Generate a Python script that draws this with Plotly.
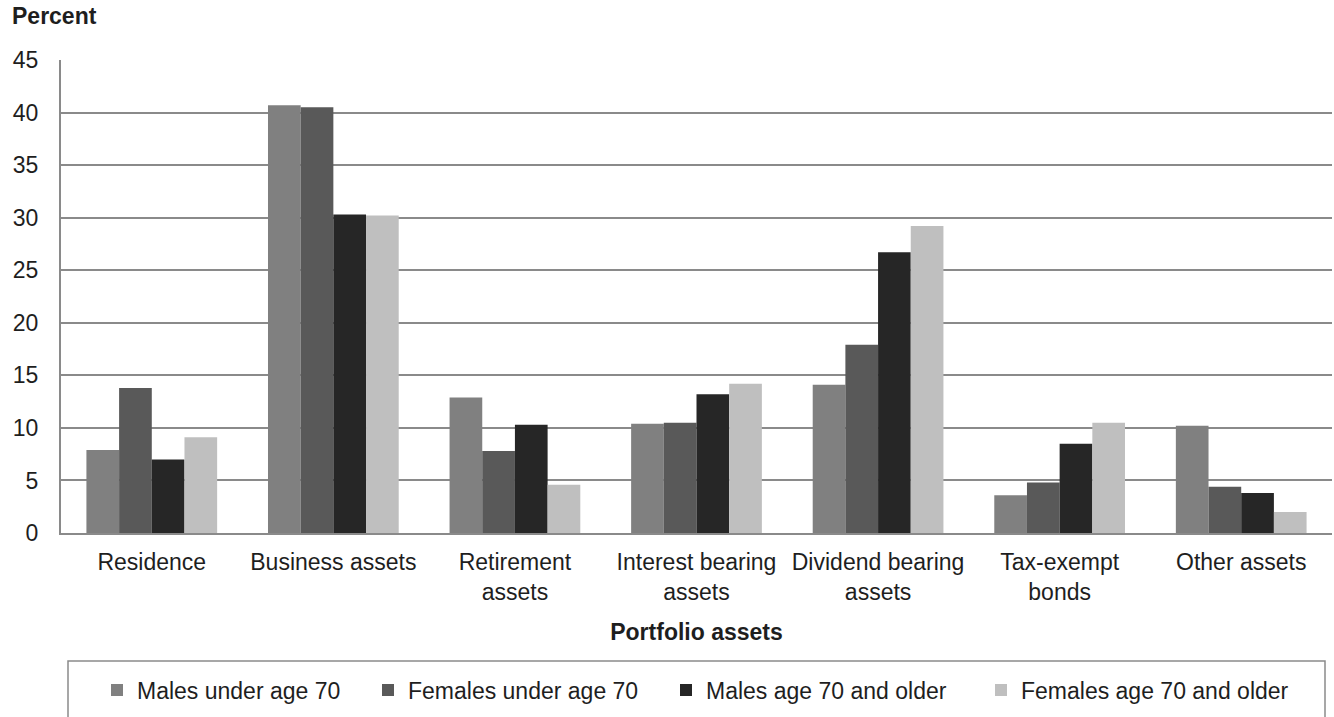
import plotly.graph_objects as go

# Share of portfolio held in each asset type, by sex and age group (percent)
categories = [
    "Residence",
    "Business assets",
    "Retirement<br>assets",
    "Interest bearing<br>assets",
    "Dividend bearing<br>assets",
    "Tax-exempt<br>bonds",
    "Other assets",
]
males_under_70 = [7.9, 40.7, 12.9, 10.4, 14.1, 3.6, 10.2]
females_under_70 = [13.8, 40.5, 7.8, 10.5, 17.9, 4.8, 4.4]
males_70_older = [7.0, 30.3, 10.3, 13.2, 26.7, 8.5, 3.8]
females_70_older = [9.1, 30.2, 4.6, 14.2, 29.2, 10.5, 2.0]

series_names = [
    "Males under age 70",
    "Females under age 70",
    "Males age 70 and older",
    "Females age 70 and older",
]
series_values = [males_under_70, females_under_70, males_70_older, females_70_older]
series_colors = ["#808080", "#595959", "#262626", "#bfbfbf"]
legend_ids = ["legend", "legend2", "legend3", "legend4"]
y_ticks = [0, 5, 10, 15, 20, 25, 30, 35, 40, 45]

FONT = "Liberation Sans, Arial, sans-serif"
TEXT = "#1e1e1e"
GRID = "#8a8a8a"

W, H = 1334, 717
ML, MR, MT, MB = 61, 2, 60, 184
PW = W - ML - MR
PH = H - MT - MB


def px_x(px):
    return (px - ML) / PW


def px_y(py):
    return (H - MB - py) / PH


fig = go.Figure()
for name, vals, color, lg in zip(series_names, series_values, series_colors, legend_ids):
    fig.add_trace(go.Bar(
        x=categories, y=vals, name=name,
        marker=dict(color=color, line=dict(width=0)),
        legend=lg,
    ))

# left edge of each legend entry's label
legend_text_left = [135, 406, 704, 1019]
legend_common = dict(
    orientation="h", yanchor="middle", xanchor="left",
    font=dict(family=FONT, size=23, color=TEXT),
    bgcolor="rgba(0,0,0,0)", borderwidth=0, itemwidth=30,
    itemclick=False, itemdoubleclick=False,
)
legends = {}
for lg, tx in zip(legend_ids, legend_text_left):
    legends[lg] = dict(x=px_x(tx - 38), y=px_y(690), **legend_common)

fig.update_layout(
    width=W, height=H,
    margin=dict(l=ML, r=MR, t=MT, b=MB, pad=0),
    paper_bgcolor="white", plot_bgcolor="white",
    barmode="group", bargap=0.28, bargroupgap=0,
    font=dict(family=FONT, size=23, color=TEXT),
    showlegend=True,
    **legends,
    xaxis=dict(
        tickfont=dict(family=FONT, size=23, color=TEXT),
        showline=True, linecolor=GRID, linewidth=2,
        showgrid=False, ticks="", ticklabelstandoff=7,
        title=dict(text="<b>Portfolio assets</b>", standoff=20,
                   font=dict(family=FONT, size=23, color=TEXT)),
    ),
    yaxis=dict(
        range=[0, 45], tickvals=y_ticks,
        tickfont=dict(family=FONT, size=23, color=TEXT),
        showgrid=True, gridcolor=GRID, gridwidth=2,
        showline=True, linecolor=GRID, linewidth=2,
        zeroline=False, ticks="", ticklabelstandoff=16,
    ),
    annotations=[dict(
        text="<b>Percent</b>", xref="paper", yref="paper",
        x=px_x(10), y=px_y(16.5), xanchor="left", yanchor="middle",
        showarrow=False, font=dict(family=FONT, size=23, color=TEXT),
    )],
    shapes=[dict(
        type="rect", xref="paper", yref="paper",
        x0=px_x(68), x1=px_x(1325), y0=px_y(661), y1=px_y(760),
        line=dict(color=GRID, width=1.5), fillcolor="rgba(0,0,0,0)",
        layer="above",
    )],
)

fig.write_html("out.html")
